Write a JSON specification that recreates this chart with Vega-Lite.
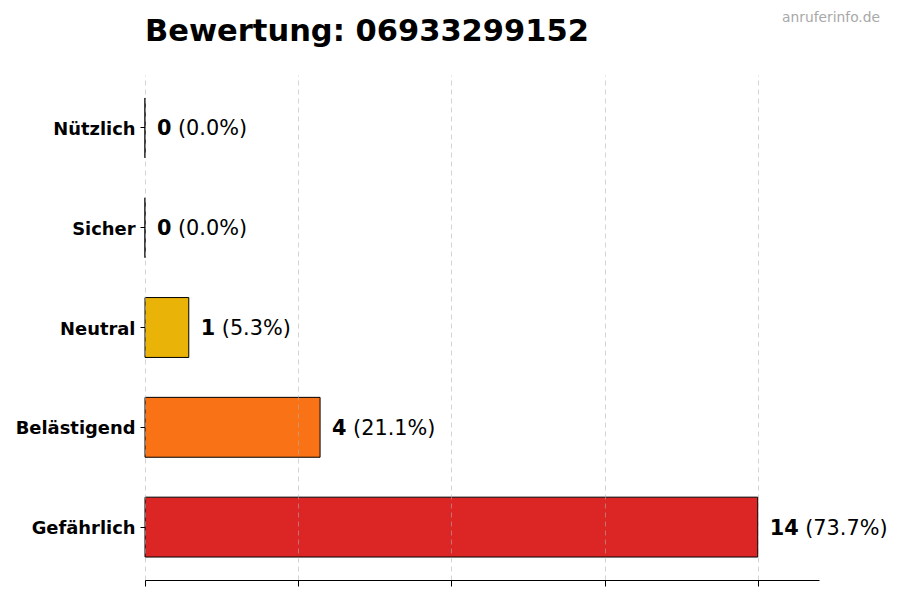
{
  "$schema": "https://vega.github.io/schema/vega-lite/v6.json",
  "autosize": {"type": "none"},
  "padding": {"left": 145, "top": 75, "right": 81, "bottom": 20},
  "width": 674,
  "height": 505,
  "background": "white",
  "config": {
    "font": "DejaVu Sans",
    "view": {"stroke": null}
  },
  "title": {
    "text": "Bewertung: 06933299152",
    "anchor": "start",
    "frame": "group",
    "font": "DejaVu Sans",
    "fontSize": 30.5,
    "fontWeight": "bold",
    "color": "black",
    "baseline": "alphabetic",
    "offset": -60
  },
  "data": {
    "values": [
      {"kategorie": "Nützlich", "anzahl": 0, "prozent": "(0.0%)"},
      {"kategorie": "Sicher", "anzahl": 0, "prozent": "(0.0%)"},
      {"kategorie": "Neutral", "anzahl": 1, "prozent": "(5.3%)"},
      {"kategorie": "Belästigend", "anzahl": 4, "prozent": "(21.1%)"},
      {"kategorie": "Gefährlich", "anzahl": 14, "prozent": "(73.7%)"}
    ]
  },
  "encoding": {
    "y": {
      "field": "kategorie",
      "type": "nominal",
      "sort": ["Nützlich", "Sicher", "Neutral", "Belästigend", "Gefährlich"],
      "scale": {"paddingInner": 0.4, "paddingOuter": 0.23},
      "axis": {
        "title": null,
        "domain": false,
        "tickSize": 5,
        "tickColor": "black",
        "labelPadding": 5,
        "labelOffset": 2,
        "labelFont": "DejaVu Sans",
        "labelFontSize": 17.9,
        "labelFontWeight": "bold",
        "labelColor": "black"
      }
    },
    "x": {
      "field": "anzahl",
      "type": "quantitative",
      "scale": {"domain": [0, 15.4], "nice": false},
      "axis": {
        "title": null,
        "values": [0, 3.5, 7, 10.5, 14],
        "labels": false,
        "domainColor": "black",
        "tickColor": "black",
        "tickSize": 6,
        "grid": true,
        "gridColor": "#b0b0b0",
        "gridOpacity": 0.55,
        "gridDash": [5, 4],
        "zindex": 1
      }
    }
  },
  "layer": [
    {
      "mark": {"type": "bar", "stroke": "black", "strokeWidth": 1},
      "encoding": {
        "color": {
          "field": "kategorie",
          "type": "nominal",
          "scale": {
            "domain": ["Nützlich", "Sicher", "Neutral", "Belästigend", "Gefährlich"],
            "range": ["#22c55e", "#3b82f6", "#eab308", "#f97316", "#dc2626"]
          },
          "legend": null
        }
      }
    },
    {
      "mark": {"type": "text", "align": "left", "baseline": "middle", "dx": 12, "dy": 1.5, "fontSize": 20.8, "fontWeight": "bold", "color": "black", "font": "DejaVu Sans"},
      "encoding": {"text": {"field": "anzahl", "type": "quantitative"}}
    },
    {
      "transform": [{"filter": "datum.anzahl < 10"}],
      "mark": {"type": "text", "align": "left", "baseline": "middle", "dx": 33, "dy": 1.5, "fontSize": 20.8, "color": "black", "font": "DejaVu Sans"},
      "encoding": {"text": {"field": "prozent", "type": "nominal"}}
    },
    {
      "transform": [{"filter": "datum.anzahl >= 10"}],
      "mark": {"type": "text", "align": "left", "baseline": "middle", "dx": 47.5, "dy": 1.5, "fontSize": 20.8, "color": "black", "font": "DejaVu Sans"},
      "encoding": {"text": {"field": "prozent", "type": "nominal"}}
    },
    {
      "data": {"values": [{"quelle": "anruferinfo.de"}]},
      "mark": {"type": "text", "align": "right", "baseline": "alphabetic", "fontSize": 13.8, "color": "#a8a8a8", "font": "DejaVu Sans", "x": {"expr": "width + 61"}, "y": -53},
      "encoding": {"text": {"field": "quelle", "type": "nominal"}, "x": null, "y": null}
    }
  ]
}
